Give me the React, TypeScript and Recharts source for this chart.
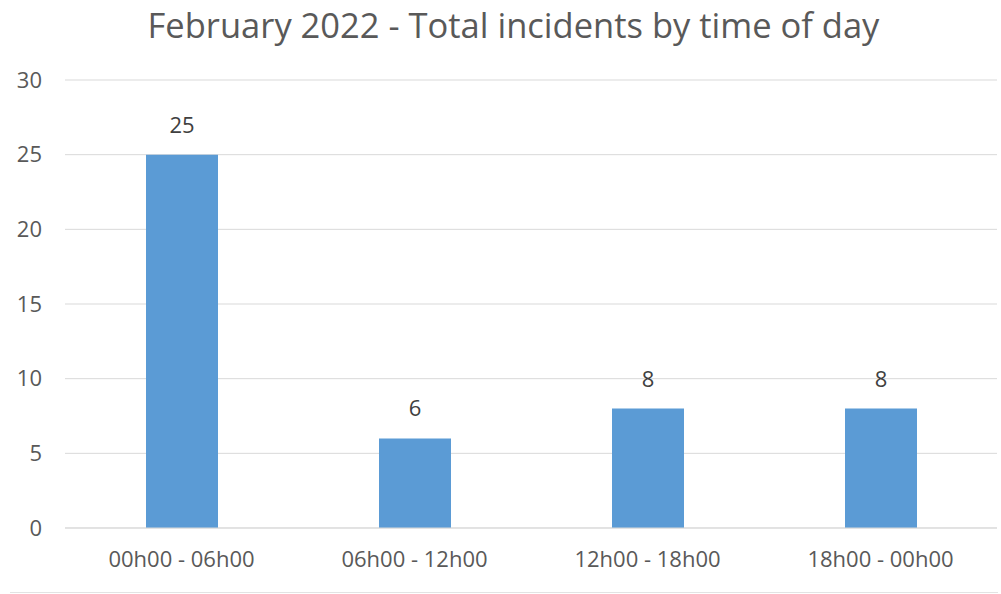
import { BarChart, Bar, XAxis, YAxis, CartesianGrid, LabelList } from 'recharts'

// Incidents per six-hour slot, February 2022
const timeSlots = ['00h00 - 06h00', '06h00 - 12h00', '12h00 - 18h00', '18h00 - 00h00']
const incidentCounts = [25, 6, 8, 8]
const yTicks = [0, 5, 10, 15, 20, 25, 30]

const chartData = timeSlots.map((slot, i) => ({ slot, incidents: incidentCounts[i] }))

const FONT = '"Open Sans", "Noto Sans", sans-serif'

export default function App() {
  return (
    <div
      style={{
        position: 'absolute',
        left: 0,
        top: 0,
        width: 1001,
        height: 594,
        background: '#fff',
        fontFamily: FONT,
        overflow: 'hidden',
      }}
    >
      <div
        style={{
          position: 'absolute',
          top: 4,
          left: 0,
          width: 975,
          paddingLeft: 26,
          textAlign: 'center',
          fontSize: 34.5,
          lineHeight: 1.2,
          color: '#595959',
          whiteSpace: 'nowrap',
        }}
      >
        February 2022 - Total incidents by time of day
      </div>
      <BarChart
        width={1001}
        height={594}
        data={chartData}
        margin={{ top: 80, right: 4, left: 0, bottom: 36 }}
        barSize={72}
      >
        <CartesianGrid vertical={false} stroke="#d9d9d9" />
        <XAxis
          dataKey="slot"
          axisLine={{ stroke: '#d9d9d9' }}
          tickLine={false}
          tickMargin={17}
          tick={{ fill: '#595959', fontSize: 22, fontFamily: FONT }}
        />
        <YAxis
          width={65}
          domain={[0, 30]}
          ticks={yTicks}
          axisLine={false}
          tickLine={false}
          tickMargin={17}
          tick={{ fill: '#595959', fontSize: 22, fontFamily: FONT }}
        />
        <Bar dataKey="incidents" fill="#5b9bd5" isAnimationActive={false}>
          <LabelList
            dataKey="incidents"
            position="top"
            offset={22}
            style={{ fill: '#404040', fontSize: 22, fontFamily: FONT }}
          />
        </Bar>
      </BarChart>
      <div
        style={{
          position: 'absolute',
          left: 10,
          top: 592,
          width: 988,
          height: 1,
          background: '#e3e3e3',
        }}
      />
    </div>
  )
}
